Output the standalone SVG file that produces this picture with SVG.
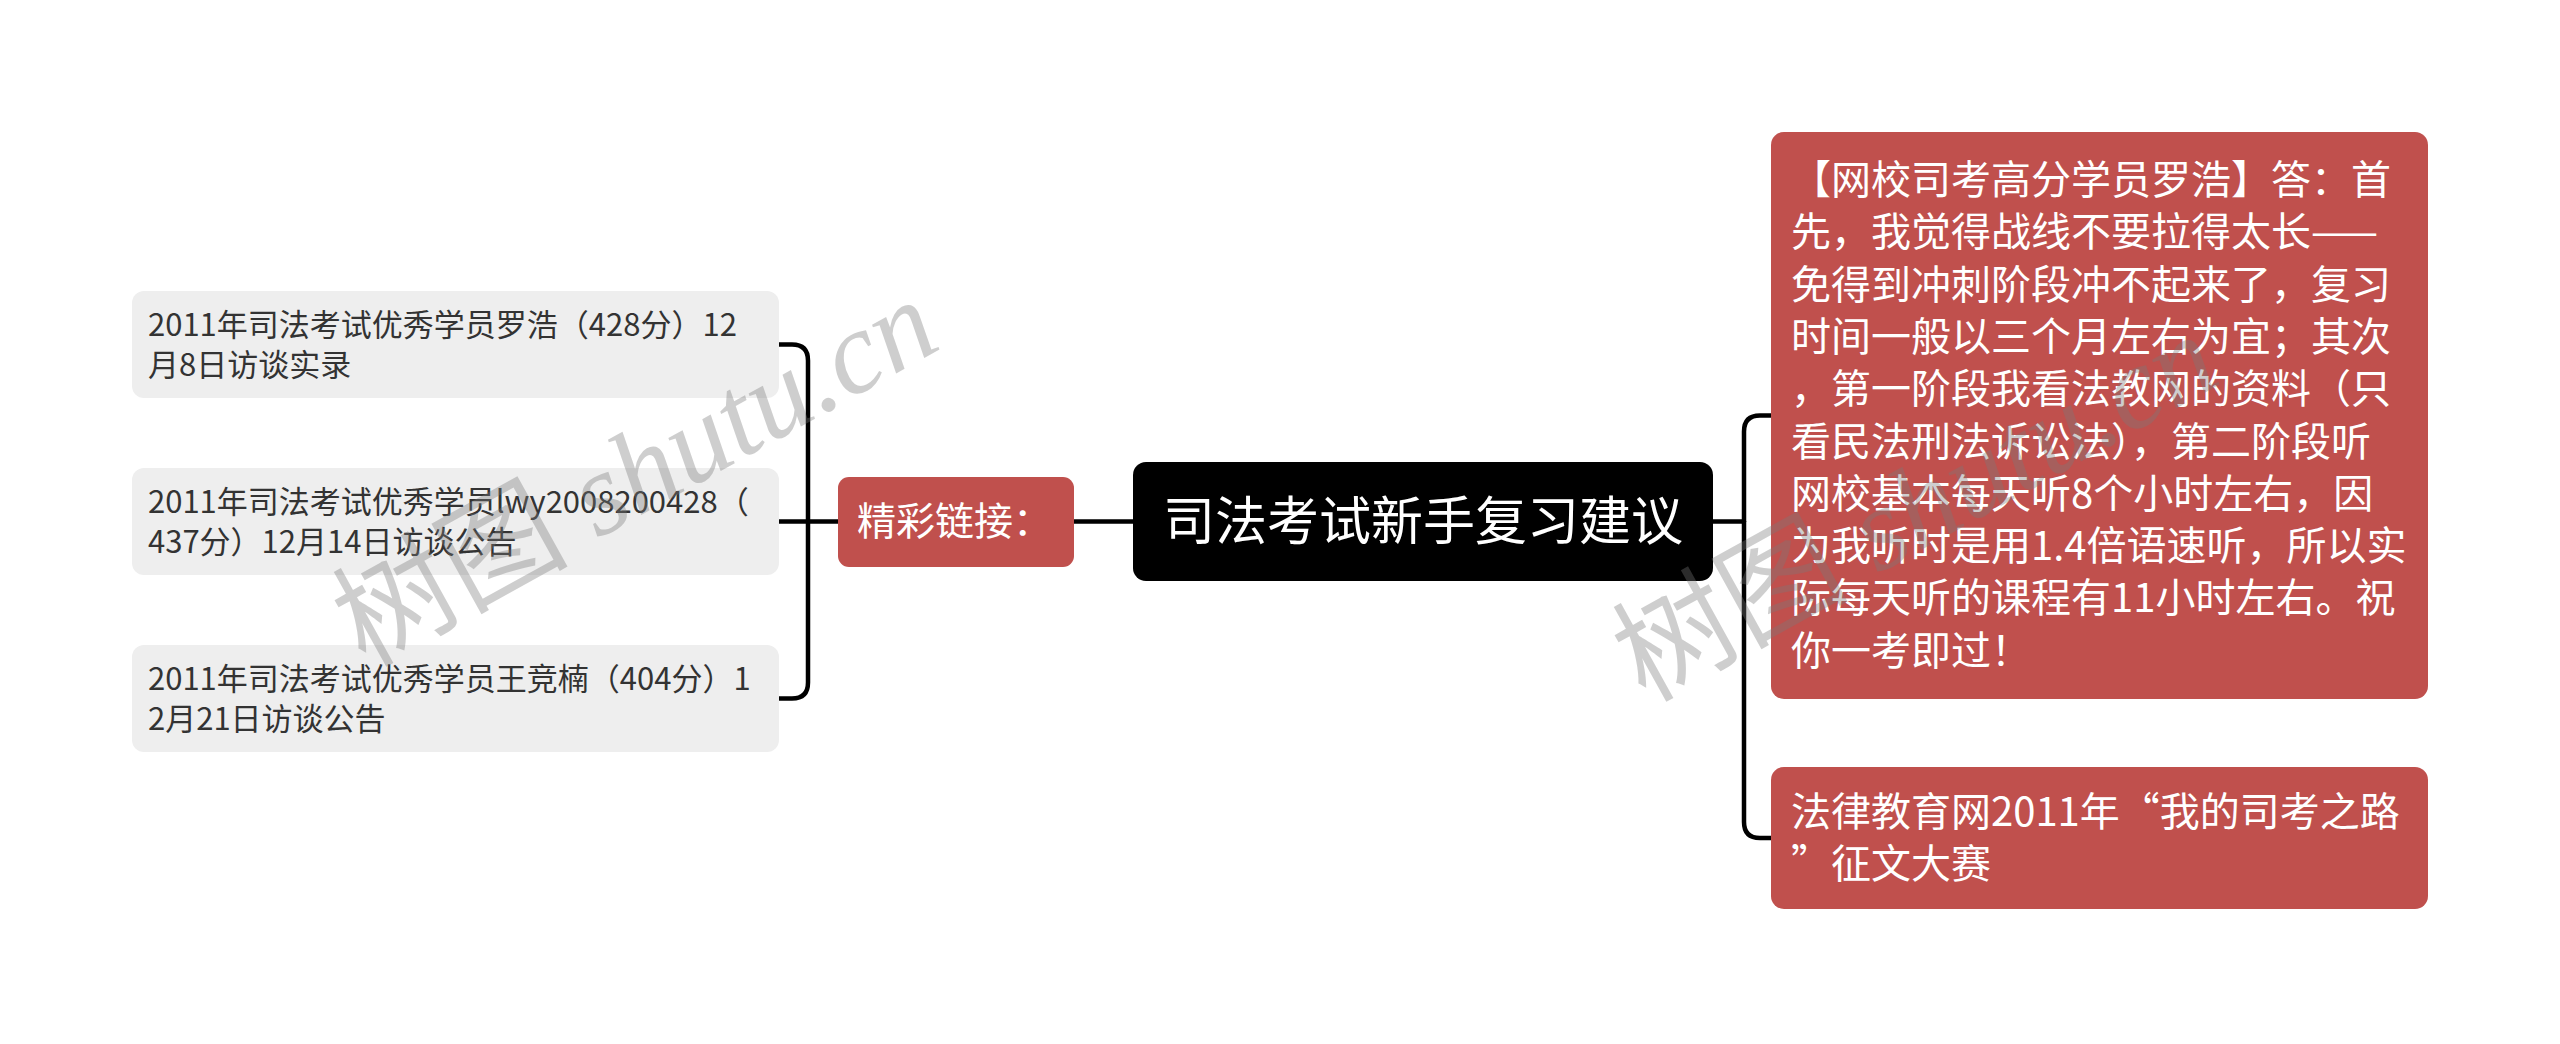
<svg xmlns="http://www.w3.org/2000/svg" width="2560" height="1044" viewBox="0 0 2560 1044">
<style>
.t{font-family:"Noto Sans CJK SC","Noto Sans",sans-serif}
.leaf{fill:#eeeeee}
.red{fill:#c0504d}
.lt{font-size:31px;fill:#333333}
.rt{font-size:40px;fill:#ffffff}
.conn{fill:none;stroke:#000;stroke-width:4.5;stroke-linecap:round}
.wm{font-family:"Liberation Serif","Noto Sans CJK SC",serif;font-size:118px;fill:#7a7a7a;opacity:0.36}
</style>
<rect width="2560" height="1044" fill="#ffffff"/>
<g id="connectors">
<path class="conn" d="M1074 521.5 H1133"/>
<path class="conn" d="M779 521.5 H838"/>
<path class="conn" d="M779 344.5 H792 Q808 344.5 808 360.5 V682.5 Q808 698.5 792 698.5 H779"/>
<path class="conn" d="M1713 521.5 H1744"/>
<path class="conn" d="M1771 415.5 H1760 Q1744 415.5 1744 431.5 V822 Q1744 838 1760 838 H1771"/>
</g>
<g id="center">
<rect x="1133" y="462" width="580" height="119" rx="13" fill="#000000"/>
<text class="t" x="1423" y="540" font-size="52" fill="#ffffff" text-anchor="middle">司法考试新手复习建议</text>
</g>
<g id="links">
<rect class="red" x="838" y="477" width="236" height="90" rx="11"/>
<text class="t" x="857" y="535" font-size="39" fill="#ffffff">精彩链接：</text>
</g>
<g id="leaf1">
<rect class="leaf" x="132" y="291" width="647" height="107" rx="12"/>
<text class="t lt" x="148" y="335.5">2011年司法考试优秀学员罗浩（428分）12</text>
<text class="t lt" x="148" y="375.5">月8日访谈实录</text>
</g>
<g id="leaf2">
<rect class="leaf" x="132" y="468" width="647" height="107" rx="12"/>
<text class="t lt" x="148" y="512.5">2011年司法考试优秀学员lwy2008200428（</text>
<text class="t lt" x="148" y="552.5">437分）12月14日访谈公告</text>
</g>
<g id="leaf3">
<rect class="leaf" x="132" y="645" width="647" height="107" rx="12"/>
<text class="t lt" x="148" y="689.5">2011年司法考试优秀学员王竞楠（404分）1</text>
<text class="t lt" x="148" y="729.5">2月21日访谈公告</text>
</g>
<g id="answer">
<rect class="red" x="1771" y="132" width="657" height="567" rx="13"/>
<text class="t rt" x="1791" y="194">【网校司考高分学员罗浩】答：首</text>
<text class="t rt" x="1791" y="246.3">先，我觉得战线不要拉得太长——</text>
<text class="t rt" x="1791" y="298.6">免得到冲刺阶段冲不起来了，复习</text>
<text class="t rt" x="1791" y="350.9">时间一般以三个月左右为宜；其次</text>
<text class="t rt" x="1791" y="403.2">，第一阶段我看法教网的资料（只</text>
<text class="t rt" x="1791" y="455.5">看民法刑法诉讼法），第二阶段听</text>
<text class="t rt" x="1791" y="507.8">网校基本每天听8个小时左右，因</text>
<text class="t rt" x="1791" y="560.1">为我听时是用1.4倍语速听，所以实</text>
<text class="t rt" x="1791" y="612.4">际每天听的课程有11小时左右。祝</text>
<text class="t rt" x="1791" y="664.7">你一考即过！</text>
</g>
<g id="contest">
<rect class="red" x="1771" y="767" width="657" height="142" rx="13"/>
<text class="t rt" x="1791" y="826">法律教育网2011年“我的司考之路</text>
<text class="t rt" x="1791" y="878">”征文大赛</text>
</g>
<g id="watermark">
<text class="wm" transform="translate(365 668) rotate(-29)">树图 <tspan font-style="italic">shutu.cn</tspan></text>
<text class="wm" transform="translate(1645 703) rotate(-29)">树图 <tspan font-style="italic">shutu.cn</tspan></text>
</g>
</svg>
